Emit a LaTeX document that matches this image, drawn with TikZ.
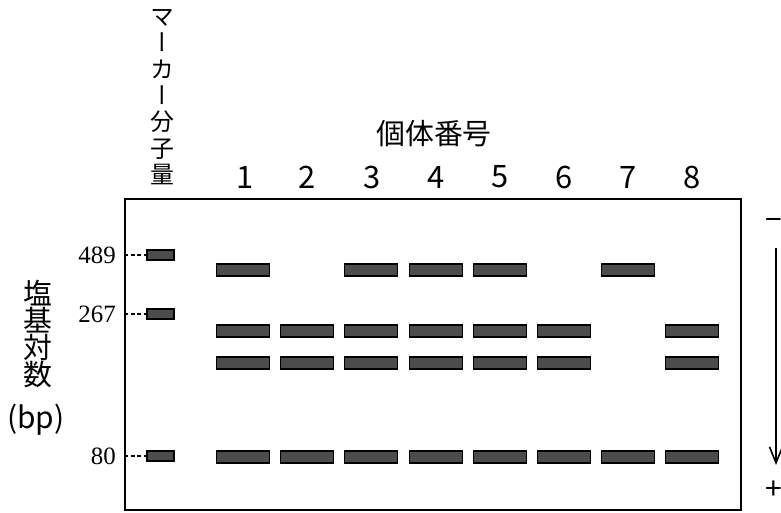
\documentclass[tikz,border=0pt]{standalone}
\usepackage{fontspec}
\setmainfont{Liberation Serif}
\newfontfamily\jp{Noto Sans CJK JP}
\newfontfamily\jpv{Noto Sans CJK JP}[RawFeature=+vert]
\usetikzlibrary{arrows.meta}
\begin{document}
\begin{tikzpicture}[x=1bp,y=-1bp,
  band/.style={draw=black, fill=black!70, line width=1.1bp, minimum width=53bp, minimum height=12bp, inner sep=0pt},
  mband/.style={band, minimum width=27bp, minimum height=10bp},
  lanenum/.style={font=\jp\fontsize{31}{31}\selectfont, inner sep=0pt},
  sizelab/.style={font=\fontsize{25}{25}\selectfont, anchor=east, inner sep=0pt},
  guide/.style={dash pattern=on 4bp off 2.5bp, line width=1.1bp},
  sign/.style={font=\jp\fontsize{30}{30}\selectfont, inner sep=0pt}]
\useasboundingbox (0,0) rectangle (781,513);

% gel frame
\node[draw, line width=1.6bp, minimum width=616bp, minimum height=311bp, inner sep=0pt] (gel) at (433,354.5) {};

% titles
\node[font=\jp\fontsize{29}{29}\selectfont, inner sep=0pt] (title) at (434,134) {個体番号};
\node[font=\jpv\fontsize{24}{26.4}\selectfont, align=center, inner sep=0pt] (mlab) at (162,97) {マ\\ー\\カ\\ー\\分\\子\\量};
\node[font=\jp\fontsize{29}{27}\selectfont, align=center, inner sep=0pt] (ylab) at (38,334) {塩\\基\\対\\数};
\node[font=\jp\fontsize{30}{30}\selectfont, inner sep=0pt] (bp) at (36,420) {(bp)};

% lane numbers
\foreach \i/\x in {1/245,2/307,3/372,4/436,5/500,6/564,7/628,8/692}
  \node[lanenum] (n\i) at (\x,177) {\i};

% marker bands and size labels
\node[mband] (m489) at (160.5,255) {};
\node[mband] (m267) at (160.5,314) {};
\node[mband] (m80) at (160.5,456) {};
\node[sizelab] (l489) at (116,255) {489};
\node[sizelab] (l267) at (116,314) {267};
\node[sizelab] (l80) at (116,456) {80};
\draw[guide] (gel.west |- m489) -- (m489.west);
\draw[guide] (gel.west |- m267) -- (m267.west);
\draw[guide] (gel.west |- m80) -- (m80.west);

% sample bands
\foreach \i/\x in {1/243,3/371,4/436,5/500,7/628}
  \node[band] (a\i) at (\x,270) {};
\foreach \i/\x in {1/243,2/307,3/371,4/436,5/500,6/564,8/692}
  \node[band] (b\i) at (\x,331) {};
\foreach \i/\x in {1/243,2/307,3/371,4/436,5/500,6/564,8/692}
  \node[band] (c\i) at (\x,363) {};
\foreach \i/\x in {1/243,2/307,3/371,4/436,5/500,6/564,7/628,8/692}
  \node[band] (d\i) at (\x,457) {};

% migration direction
\node[sign] (minus) at (774,224) {−};
\node[sign] (plus) at (774,490) {+};
\coordinate (atop) at (776,248);
\coordinate (atip) at (776,465);
\draw[line width=2bp, -{Straight Barb[length=16bp,width=13bp,line width=1.6bp]}] (atop) -- (atip);
\end{tikzpicture}
\end{document}
